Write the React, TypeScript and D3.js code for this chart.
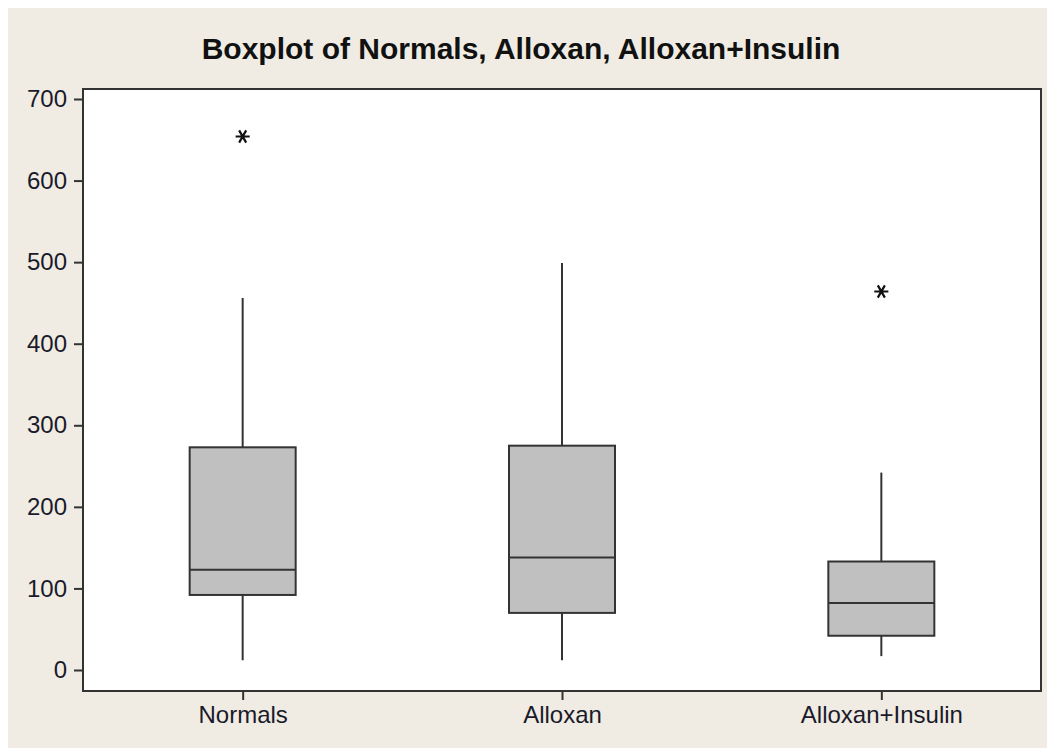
import React, { useRef, useEffect } from "react";
import * as d3 from "d3";

// groups and their summary values
const groups = ["Normals", "Alloxan", "Alloxan+Insulin"];
const whiskerLow = [12, 12, 17];
const q1 = [92, 70, 42];
const median = [123, 138, 82];
const q3 = [273, 275, 133];
const whiskerHigh = [456, 499, 242];
const outliers = [[654], [], [464]];
const yTicks = [0, 100, 200, 300, 400, 500, 600, 700];

const App = () => {
  const container = useRef(null);

  const width = 1047;
  const height = 748;
  // frame of the plot area
  const left = 83;
  const right = 1041;
  const top = 89;
  const bottom = 691;

  useEffect(() => {
    const svg = d3.select(container.current);
    svg.selectAll("*").remove();

    // beige panel (white page margin left at top/left)
    svg
      .append("rect")
      .attr("x", 8)
      .attr("y", 8)
      .attr("width", width - 8)
      .attr("height", height - 8)
      .style("fill", "#F0ECE3");

    svg
      .append("rect")
      .attr("x", left)
      .attr("y", top)
      .attr("width", right - left)
      .attr("height", bottom - top)
      .style("fill", "#FFFFFF")
      .style("stroke", "#333")
      .style("stroke-width", 2);

    const xScale = d3
      .scalePoint()
      .domain(groups)
      .range([left, right])
      .padding(0.5);

    const yScale = d3.scaleLinear().domain([0, 700]).range([670, 99]);

    const font = "'Liberation Sans', Arial, sans-serif";

    // title
    svg
      .append("text")
      .attr("x", 521)
      .attr("y", 59)
      .attr("text-anchor", "middle")
      .style("font-family", font)
      .style("font-weight", "bold")
      .style("font-size", "30px")
      .style("fill", "#111")
      .text("Boxplot of Normals, Alloxan, Alloxan+Insulin");

    // y axis
    const yAxis = d3
      .axisLeft(yScale)
      .tickValues(yTicks)
      .tickSize(8)
      .tickPadding(7)
      .tickFormat(d3.format("d"));
    const yG = svg
      .append("g")
      .attr("transform", `translate(${left - 1}, 0)`)
      .call(yAxis);
    yG.select(".domain").remove();
    yG.selectAll("line").style("stroke", "#333").style("stroke-width", 2);
    yG.selectAll("text")
      .style("font-family", font)
      .style("font-size", "24px")
      .style("fill", "#1a1a2a");

    // x axis
    const xAxis = d3.axisBottom(xScale).tickSize(8).tickPadding(6);
    const xG = svg
      .append("g")
      .attr("transform", `translate(0, ${bottom + 1})`)
      .call(xAxis);
    xG.select(".domain").remove();
    xG.selectAll("line").style("stroke", "#333").style("stroke-width", 2);
    xG.selectAll("text")
      .style("font-family", font)
      .style("font-size", "24px")
      .style("fill", "#1a1a2a");

    const boxHalf = 53;

    const boxes = svg
      .selectAll(".box")
      .data(groups)
      .enter()
      .append("g")
      .attr("class", "box");

    // whiskers
    boxes
      .append("line")
      .attr("x1", (d) => xScale(d))
      .attr("x2", (d) => xScale(d))
      .attr("y1", (d, i) => yScale(whiskerHigh[i]))
      .attr("y2", (d, i) => yScale(whiskerLow[i]))
      .style("stroke", "#333")
      .style("stroke-width", 2);

    // interquartile box
    boxes
      .append("rect")
      .attr("x", (d) => xScale(d) - boxHalf)
      .attr("y", (d, i) => yScale(q3[i]))
      .attr("width", boxHalf * 2)
      .attr("height", (d, i) => yScale(q1[i]) - yScale(q3[i]))
      .style("fill", "#C0C0C0")
      .style("stroke", "#333")
      .style("stroke-width", 2);

    // median
    boxes
      .append("line")
      .attr("x1", (d) => xScale(d) - boxHalf)
      .attr("x2", (d) => xScale(d) + boxHalf)
      .attr("y1", (d, i) => yScale(median[i]))
      .attr("y2", (d, i) => yScale(median[i]))
      .style("stroke", "#333")
      .style("stroke-width", 2);

    // outliers as asterisks
    const star = d3.symbol().type(d3.symbolAsterisk).size(140);
    groups.forEach((g, i) => {
      outliers[i].forEach((v) => {
        svg
          .append("path")
          .attr("d", star())
          .attr(
            "transform",
            `translate(${xScale(g)}, ${yScale(v)}) rotate(90)`
          )
          .style("fill", "none")
          .style("stroke", "#111")
          .style("stroke-width", 2.2);
      });
    });
  }, []);

  return (
    <svg
      ref={container}
      width={width}
      height={height}
      style={{ position: "absolute", left: 0, top: 0, display: "block" }}
    />
  );
};

export default App;
